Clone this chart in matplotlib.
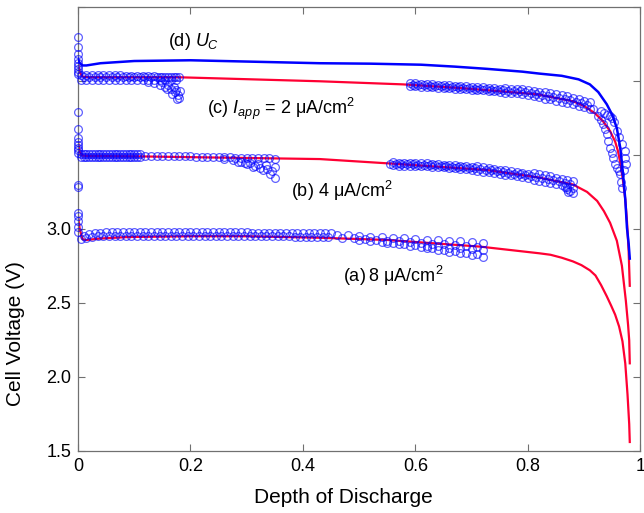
import matplotlib
matplotlib.use("Agg")
import matplotlib.pyplot as plt

plt.rcParams["font.family"] = ["Liberation Sans", "DejaVu Sans"]
plt.rcParams["mathtext.fontset"] = "custom"
plt.rcParams["mathtext.rm"] = "Liberation Sans"
plt.rcParams["mathtext.it"] = "Liberation Sans:italic"

# --- model curves (solid lines) ---
uc_x = [0, 0.003, 0.008, 0.015, 0.04, 0.1, 0.2, 0.43, 0.52, 0.61, 0.67, 0.727, 0.79, 0.82, 0.86,
        0.89, 0.91, 0.925, 0.94, 0.95, 0.958, 0.964, 0.969, 0.973, 0.976, 0.979, 0.981]
uc_y = [4.15, 4.12, 4.105, 4.105, 4.12, 4.135, 4.14, 4.12, 4.117, 4.11, 4.097, 4.082, 4.063, 4.05,
        4.035, 4.011, 3.977, 3.925, 3.843, 3.77, 3.681, 3.55, 3.371, 3.2, 3.008, 2.9, 2.799]

c_mod_x = [0, 0.003, 0.008, 0.02, 0.18, 0.43, 0.578, 0.684, 0.816, 0.88, 0.90, 0.919, 0.933,
           0.946, 0.955, 0.96, 0.965, 0.969, 0.973, 0.976, 0.979, 0.981]
c_mod_y = [4.12, 4.06, 4.03, 4.025, 4.025, 3.998, 3.977, 3.951, 3.91, 3.863, 3.83, 3.782, 3.73,
           3.661, 3.59, 3.526, 3.43, 3.323, 3.2, 3.053, 2.85, 2.615]

b_mod_x = [0, 0.003, 0.008, 0.02, 0.11, 0.43, 0.555, 0.727, 0.82, 0.88, 0.905, 0.923, 0.935,
           0.946, 0.958, 0.967, 0.974, 0.978, 0.98, 0.981]
b_mod_y = [3.59, 3.52, 3.495, 3.493, 3.49, 3.472, 3.442, 3.398, 3.347, 3.30, 3.25, 3.189, 3.12,
           3.041, 2.92, 2.751, 2.515, 2.35, 2.246, 2.091]

a_mod_x = [0, 0.003, 0.008, 0.015, 0.04, 0.09, 0.2, 0.3, 0.43, 0.55, 0.715, 0.82, 0.84, 0.86,
           0.88, 0.895, 0.91, 0.92, 0.93, 0.94, 0.948, 0.955, 0.962, 0.968, 0.973, 0.977, 0.98,
           0.981]
a_mod_y = [3.09, 3.0, 2.93, 2.925, 2.935, 2.945, 2.95, 2.95, 2.94, 2.925, 2.88, 2.835, 2.825,
           2.805, 2.78, 2.755, 2.72, 2.685, 2.62, 2.545, 2.48, 2.42, 2.34, 2.24, 2.09, 1.88, 1.68,
           1.559]

# --- experimental points (open circles) ---
c1_x = [0.005, 0.015, 0.025, 0.035, 0.045, 0.055, 0.065, 0.075, 0.085, 0.095, 0.105, 0.115,
        0.125, 0.135, 0.145, 0.155, 0.165, 0.175]
c1_xh = [0.01, 0.02, 0.03, 0.04, 0.05, 0.06, 0.07, 0.08, 0.09, 0.10, 0.11, 0.12, 0.13, 0.14,
         0.15, 0.16, 0.17, 0.18]
c_spike_y = [4.30, 4.23, 4.18, 4.15, 4.12, 4.10, 4.08, 4.06, 4.045]
c1_upper_y = [4.04] * 8 + [4.035] * 6 + [4.028] * 4
c1_mid_y = [4.025] * 18
c1_lower_y = [4.008] * 18
c_fan1_x = [0.125, 0.135, 0.145, 0.15, 0.155, 0.16, 0.165, 0.17, 0.172, 0.175, 0.178, 0.18,
            0.176, 0.168, 0.158, 0.181]
c_fan1_y = [3.995, 3.985, 3.975, 3.99, 3.96, 3.975, 3.945, 3.96, 3.925, 3.94, 3.905, 3.885,
            3.88, 3.915, 3.945, 3.935]
c2_x = [0.59, 0.60, 0.61, 0.62, 0.63, 0.64, 0.65, 0.66, 0.67, 0.68, 0.69, 0.70, 0.71, 0.72,
        0.73, 0.74, 0.75, 0.76, 0.77, 0.78, 0.79, 0.80, 0.81, 0.82, 0.83, 0.84, 0.85, 0.86,
        0.87, 0.88, 0.89, 0.90, 0.91]
c2_xh = [0.595, 0.605, 0.615, 0.625, 0.635, 0.645, 0.655, 0.665, 0.675, 0.685, 0.695, 0.705,
         0.715, 0.725, 0.735, 0.745, 0.755, 0.765, 0.775, 0.785, 0.795, 0.805, 0.815, 0.825,
         0.835, 0.845, 0.855, 0.865, 0.875, 0.885, 0.895, 0.905]
c2_upper_y = [3.986, 3.984, 3.981, 3.979, 3.977, 3.974, 3.972, 3.970, 3.967, 3.965, 3.963,
              3.960, 3.958, 3.956, 3.953, 3.951, 3.948, 3.951, 3.949, 3.946, 3.943, 3.936,
              3.930, 3.924, 3.925, 3.919, 3.911, 3.903, 3.896, 3.887, 3.877, 3.867, 3.857]
c2_mid_y = [3.975, 3.972, 3.970, 3.968, 3.965, 3.963, 3.961, 3.958, 3.956, 3.954, 3.951, 3.949,
            3.947, 3.944, 3.942, 3.939, 3.937, 3.935, 3.932, 3.930, 3.925, 3.918, 3.912, 3.906,
            3.900, 3.893, 3.885, 3.877, 3.870, 3.860, 3.850, 3.840]
c2_lower_y = [3.966, 3.964, 3.961, 3.959, 3.957, 3.954, 3.952, 3.950, 3.947, 3.945, 3.943,
              3.940, 3.938, 3.936, 3.933, 3.931, 3.928, 3.921, 3.919, 3.916, 3.913, 3.906,
              3.900, 3.894, 3.881, 3.875, 3.867, 3.859, 3.852, 3.843, 3.833, 3.823, 3.813]
c_tail_x = [0.925, 0.93, 0.933, 0.937, 0.94, 0.943, 0.946, 0.949, 0.951, 0.955, 0.958, 0.961,
            0.964, 0.966, 0.967, 0.915, 0.93, 0.935, 0.94, 0.945, 0.949, 0.953, 0.958, 0.962,
            0.967, 0.972, 0.974, 0.973, 0.97]
c_tail_y = [3.76, 3.735, 3.707, 3.675, 3.64, 3.595, 3.546, 3.51, 3.479, 3.44, 3.41, 3.39,
            3.371, 3.32, 3.277, 3.81, 3.80, 3.785, 3.77, 3.76, 3.748, 3.72, 3.661, 3.62,
            3.573, 3.526, 3.438, 3.48, 3.40]

b1_x = [0.005, 0.01, 0.015, 0.02, 0.025, 0.03, 0.035, 0.04, 0.045, 0.05, 0.055, 0.06, 0.065,
        0.07, 0.075, 0.08, 0.085, 0.09, 0.095, 0.10, 0.105, 0.11]
b_spike_y = [3.79, 3.675, 3.615, 3.59, 3.57, 3.55, 3.53, 3.515]
b1_upper_y = [3.503] * 22
b1_lower_y = [3.487] * 22
b_sparse_x = [0.12, 0.13, 0.14, 0.15, 0.16, 0.17, 0.18, 0.19, 0.20, 0.21, 0.22, 0.23, 0.24,
              0.25, 0.26, 0.27, 0.28, 0.29, 0.30, 0.31, 0.32, 0.33, 0.34, 0.35]
b_sparse_y = [3.495, 3.495, 3.494, 3.494, 3.493, 3.493, 3.492, 3.491, 3.490, 3.489, 3.488,
              3.487, 3.486, 3.485, 3.484, 3.483, 3.482, 3.481, 3.480, 3.479, 3.478, 3.477,
              3.476, 3.475]
b_fan_x = [0.26, 0.275, 0.29, 0.305, 0.32, 0.335, 0.35, 0.285, 0.30, 0.311, 0.324, 0.336,
           0.345, 0.297, 0.315, 0.329, 0.342, 0.35]
b_fan_y = [3.47, 3.465, 3.455, 3.447, 3.44, 3.43, 3.42, 3.45, 3.44, 3.419, 3.41, 3.403,
           3.39, 3.446, 3.425, 3.40, 3.37, 3.343]
b2_x = [0.56, 0.57, 0.58, 0.59, 0.60, 0.61, 0.62, 0.63, 0.64, 0.65, 0.66, 0.67, 0.68, 0.69,
        0.70, 0.71, 0.72, 0.73, 0.74, 0.75, 0.76, 0.77, 0.78, 0.79, 0.80, 0.81, 0.82, 0.83,
        0.84, 0.85, 0.86, 0.87, 0.88]
b2_xh = [0.555, 0.565, 0.575, 0.585, 0.595, 0.605, 0.615, 0.625, 0.635, 0.645, 0.655, 0.665,
         0.675, 0.685, 0.695, 0.705, 0.715, 0.725, 0.735, 0.745, 0.755, 0.765, 0.775, 0.785,
         0.795, 0.805, 0.815, 0.825, 0.835, 0.845, 0.855, 0.865, 0.875]
b2_upper_y = [3.449, 3.448, 3.447, 3.446, 3.445, 3.444, 3.443, 3.441, 3.438, 3.435, 3.432,
              3.429, 3.426, 3.423, 3.420, 3.422, 3.417, 3.412, 3.407, 3.401, 3.396, 3.391,
              3.385, 3.380, 3.374, 3.376, 3.371, 3.364, 3.356, 3.347, 3.339, 3.330, 3.322]
b2_mid_y = [3.440, 3.439, 3.438, 3.437, 3.436, 3.435, 3.434, 3.432, 3.430, 3.427, 3.424, 3.421,
            3.418, 3.415, 3.412, 3.409, 3.405, 3.400, 3.395, 3.389, 3.384, 3.379, 3.373, 3.368,
            3.362, 3.357, 3.352, 3.346, 3.338, 3.330, 3.321, 3.313, 3.304]
b2_lower_y = [3.429, 3.428, 3.427, 3.426, 3.425, 3.424, 3.423, 3.421, 3.418, 3.415, 3.412,
              3.409, 3.406, 3.403, 3.400, 3.392, 3.387, 3.382, 3.377, 3.371, 3.366, 3.361,
              3.355, 3.350, 3.344, 3.332, 3.327, 3.320, 3.312, 3.303, 3.295, 3.286, 3.278]
b_tail_x = [0.865, 0.87, 0.875, 0.88, 0.872]
b_tail_y = [3.285, 3.27, 3.255, 3.243, 3.25]

a1_x = [0.01, 0.02, 0.03, 0.04, 0.05, 0.06, 0.07, 0.08, 0.09, 0.10, 0.11, 0.12, 0.13, 0.14,
        0.15, 0.16, 0.17, 0.18, 0.19, 0.20, 0.21, 0.22, 0.23, 0.24, 0.25, 0.26, 0.27, 0.28,
        0.29, 0.30, 0.31, 0.32, 0.33, 0.34, 0.35, 0.36, 0.37, 0.38, 0.39, 0.40, 0.41, 0.42,
        0.43, 0.44, 0.45]
a1_xh = [0.005, 0.015, 0.025, 0.035, 0.045, 0.055, 0.065, 0.075, 0.085, 0.095, 0.105, 0.115,
         0.125, 0.135, 0.145, 0.155, 0.165, 0.175, 0.185, 0.195, 0.205, 0.215, 0.225, 0.235,
         0.245, 0.255, 0.265, 0.275, 0.285, 0.295, 0.305, 0.315, 0.325, 0.335, 0.345, 0.355,
         0.365, 0.375, 0.385, 0.395, 0.405, 0.415, 0.425, 0.435, 0.445]
a_spike_y = [3.30, 3.28, 3.11, 3.09, 3.05, 3.01, 2.98]
a1_upper_y = [2.955, 2.965, 2.972, 2.975] + [2.978] * 26 + [2.975] * 8 + [2.97] * 7
a1_lower_y = [2.93, 2.94, 2.945, 2.95] + [2.955] * 26 + [2.952] * 8 + [2.948] * 7
a_fan_x = ([0.46, 0.48, 0.50, 0.52, 0.54, 0.56, 0.58, 0.60, 0.62, 0.64, 0.66, 0.68, 0.70, 0.72]
           + [0.47, 0.49, 0.51, 0.53, 0.55, 0.57, 0.59, 0.61, 0.63, 0.65, 0.67, 0.69, 0.71]
           + [0.50, 0.52, 0.54, 0.56, 0.58, 0.60, 0.62, 0.64, 0.66, 0.68, 0.70, 0.72]
           + [0.55, 0.57, 0.59, 0.61, 0.63, 0.65, 0.67, 0.69, 0.71]
           + [0.62, 0.64, 0.66, 0.68, 0.70, 0.72])
a_fan_y = ([2.960, 2.956, 2.952, 2.948, 2.944, 2.940, 2.936, 2.932, 2.928, 2.924, 2.920, 2.916,
            2.911, 2.906]
           + [2.940, 2.935, 2.930, 2.925, 2.920, 2.915, 2.910, 2.905, 2.900, 2.895, 2.890,
              2.885, 2.880]
           + [2.925, 2.919, 2.913, 2.906, 2.900, 2.894, 2.887, 2.881, 2.874, 2.868, 2.861, 2.855]
           + [2.905, 2.896, 2.886, 2.877, 2.868, 2.858, 2.849, 2.839, 2.830]
           + [2.870, 2.858, 2.846, 2.834, 2.822, 2.810])

c_exp_x = ([0.0] * len(c_spike_y) + c1_x + c1_xh + c1_x + c_fan1_x
           + c2_x + c2_xh + c2_x + c_tail_x)
c_exp_y = (c_spike_y + c1_upper_y + c1_mid_y + c1_lower_y + c_fan1_y
           + c2_upper_y + c2_mid_y + c2_lower_y + c_tail_y)
b_exp_x = ([0.0] * len(b_spike_y) + b1_x + b1_x + b_sparse_x + b_fan_x
           + b2_x + b2_xh + b2_x + b_tail_x)
b_exp_y = (b_spike_y + b1_upper_y + b1_lower_y + b_sparse_y + b_fan_y
           + b2_upper_y + b2_mid_y + b2_lower_y + b_tail_y)
a_exp_x = [0.0] * len(a_spike_y) + a1_x + a1_xh + a_fan_x
a_exp_y = a_spike_y + a1_upper_y + a1_lower_y + a_fan_y

x_ticks = [0, 0.2, 0.4, 0.6, 0.8, 1.0]
x_labels = ["0", "0.2", "0.4", "0.6", "0.8", "1"]
y_ticks = [1.5, 2.0, 2.5, 3.0, 3.5, 4.0, 4.5]
y_labels = ["1.5", "2.0", "2.5", "3.0", "", "", ""]

RED = "#ff0033"
BLUE = "#0000ff"

fig = plt.figure(figsize=(6.44, 5.13), dpi=100)
ax = fig.add_axes([0.1211, 0.1214, 0.8734, 0.8649])

for mx, my in [(a_mod_x, a_mod_y), (b_mod_x, b_mod_y), (c_mod_x, c_mod_y)]:
    ax.plot(mx, my, color=RED, lw=1.6, zorder=2)

for ex, ey in [(a_exp_x, a_exp_y), (b_exp_x, b_exp_y), (c_exp_x, c_exp_y)]:
    ax.plot(ex, ey, ls="none", marker="o", ms=5.6, mfc="none", mec=BLUE, mew=0.9,
            alpha=0.62, zorder=3, clip_on=False)

ax.plot(uc_x, uc_y, color=BLUE, lw=1.8, zorder=4)

ax.text(0.16, 4.267, "(d) $U_C$", fontsize=13, ha="left", va="center")
ax.text(0.229, 3.809, "(c) $I_{app}$ = 2 \u03bcA/cm$^2$", fontsize=13, ha="left", va="center")
ax.text(0.379, 3.256, "(b) 4 \u03bcA/cm$^2$", fontsize=13, ha="left", va="center")
ax.text(0.471, 2.683, "(a)\u20098 \u03bcA/cm$^2$", fontsize=13, ha="left", va="center")

ax.set_xlim(0, 1)
ax.set_ylim(1.5, 4.5)
ax.set_xticks(x_ticks, x_labels)
ax.set_yticks(y_ticks, y_labels)
ax.tick_params(direction="in", length=5, width=0.8, color="#707070", labelsize=13,
               top=True, right=True, pad=5)
for spine in ax.spines.values():
    spine.set_color("#707070")
    spine.set_linewidth(0.9)

ax.set_xlabel("Depth of Discharge", fontsize=15)
ax.set_ylabel("Cell Voltage (V)", fontsize=15)
ax.xaxis.set_label_coords(0.471, -0.085)
ax.yaxis.set_label_coords(-0.095, 0.265)

fig.savefig("out.png", dpi=100)
